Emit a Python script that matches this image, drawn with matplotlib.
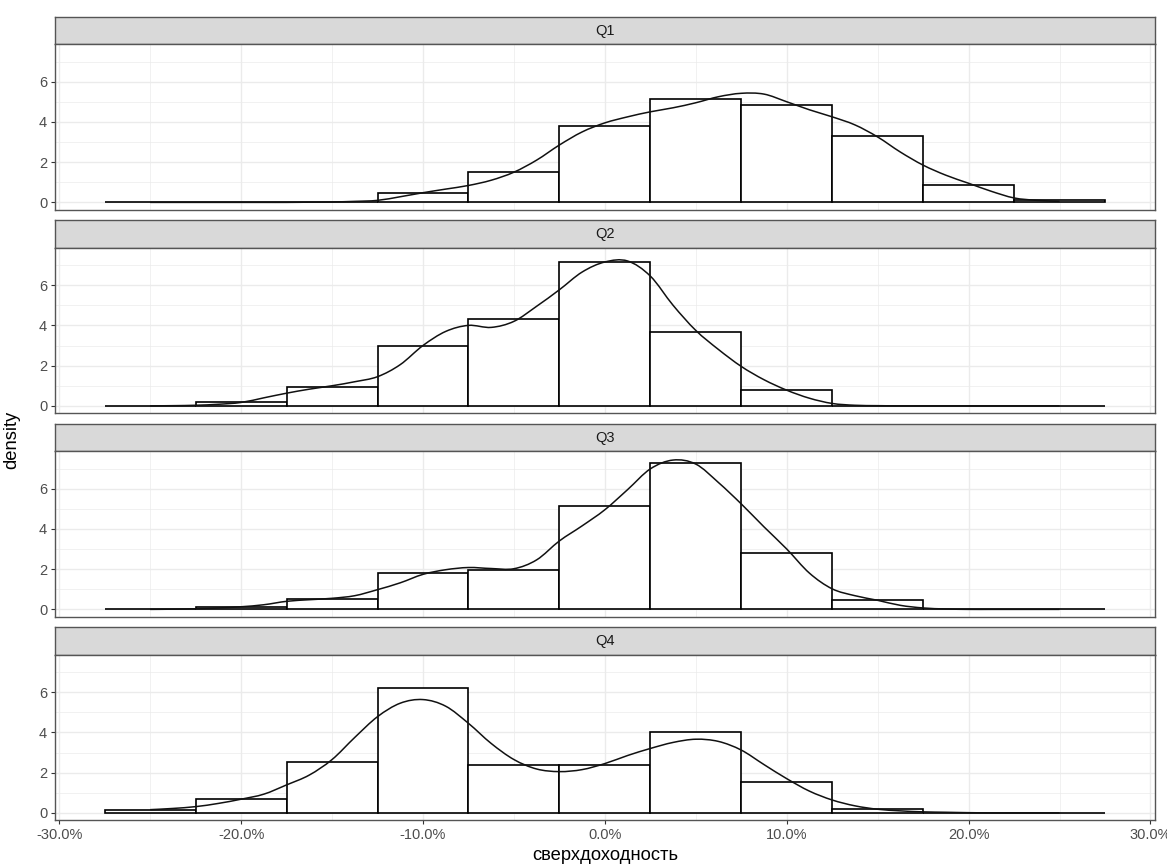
import numpy as np
import matplotlib
matplotlib.use("Agg")
import matplotlib.pyplot as plt
from matplotlib.ticker import PercentFormatter, FixedLocator
from matplotlib.path import Path
from matplotlib.patches import PathPatch

plt.rcParams['font.family'] = ['Liberation Sans', 'DejaVu Sans']
plt.rcParams['axes.unicode_minus'] = False

# ---------------- data ----------------
quarters = ['Q1', 'Q2', 'Q3', 'Q4']
bin_centers_pct = [-25, -20, -15, -10, -5, 0, 5, 10, 15, 20, 25]
bin_width_pct = 5

hist_q1 = [0, 0, 0, 0.48, 1.52, 3.80, 5.12, 4.83, 3.31, 0.88, 0.12]
hist_q2 = [0, 0.20, 0.95, 3.00, 4.34, 7.13, 3.68, 0.79, 0, 0, 0]
hist_q3 = [0, 0.10, 0.50, 1.80, 1.98, 5.14, 7.28, 2.78, 0.45, 0, 0]
hist_q4 = [0.13, 0.68, 2.51, 6.21, 2.40, 2.38, 4.02, 1.54, 0.18, 0, 0]

dens_x_pct = [-25, -23.75, -22.5, -21.25, -20, -18.75, -17.5, -16.25, -15, -13.75,
              -12.5, -11.25, -10, -8.75, -7.5, -6.25, -5, -3.75, -2.5, -1.25,
              0, 1.25, 2.5, 3.75, 5, 6.25, 7.5, 8.75, 10, 11.25,
              12.5, 13.75, 15, 16.25, 17.5, 18.75, 20, 21.25, 22.5, 23.75, 25]

dens_q1 = [0, 0, 0, 0, 0, 0, 0, 0.01, 0.02, 0.05,
           0.10, 0.28, 0.48, 0.66, 0.84, 1.10, 1.50, 2.10, 2.85, 3.50,
           3.95, 4.25, 4.50, 4.70, 4.95, 5.25, 5.42, 5.38, 5.00, 4.60,
           4.25, 3.85, 3.25, 2.50, 1.85, 1.35, 0.95, 0.55, 0.22, 0.10, 0.05]
dens_q2 = [0, 0.01, 0.03, 0.08, 0.17, 0.40, 0.63, 0.83, 1.00, 1.20,
           1.45, 2.05, 3.00, 3.70, 4.00, 3.90, 4.20, 4.95, 5.77, 6.65,
           7.15, 7.20, 6.45, 5.00, 3.75, 2.80, 1.96, 1.30, 0.78, 0.38,
           0.12, 0.03, 0.01, 0, 0, 0, 0, 0, 0, 0, 0]
dens_q3 = [0, 0.01, 0.03, 0.07, 0.13, 0.23, 0.40, 0.48, 0.55, 0.68,
           0.98, 1.32, 1.74, 1.97, 2.08, 2.03, 2.02, 2.46, 3.40, 4.15,
           4.95, 5.95, 6.98, 7.42, 7.22, 6.30, 5.24, 4.10, 3.00, 1.80,
           1.02, 0.68, 0.45, 0.20, 0.07, 0.02, 0, 0, 0, 0, 0]
dens_q4 = [0.16, 0.22, 0.31, 0.47, 0.68, 0.93, 1.39, 1.88, 2.65, 3.75,
           4.78, 5.45, 5.63, 5.30, 4.45, 3.45, 2.65, 2.18, 2.05, 2.15,
           2.45, 2.85, 3.20, 3.50, 3.66, 3.55, 3.12, 2.40, 1.70, 1.08,
           0.64, 0.35, 0.18, 0.10, 0.05, 0.03, 0.01, 0, 0, 0, 0]

x_ticks = [-0.3, -0.2, -0.1, 0.0, 0.1, 0.2, 0.3]
x_minor = [-0.25, -0.15, -0.05, 0.05, 0.15, 0.25]
y_ticks = [0, 2, 4, 6]
y_minor = [1, 3, 5, 7]

hists = [hist_q1, hist_q2, hist_q3, hist_q4]
denss = [dens_q1, dens_q2, dens_q3, dens_q4]


def smooth_path(xs, ys):
    """Curve through the read points, drawn as cubic Bezier segments (Catmull-Rom style)."""
    pts = np.column_stack([xs, ys]).astype(float)
    n = len(pts)
    verts = [pts[0]]
    codes = [Path.MOVETO]
    for k in range(n - 1):
        p0 = pts[k - 1] if k > 0 else pts[k]
        p1 = pts[k]
        p2 = pts[k + 1]
        p3 = pts[k + 2] if k + 2 < n else pts[k + 1]
        c1 = p1 + (p2 - p0) / 6.0
        c2 = p2 - (p3 - p1) / 6.0
        verts.extend([c1, c2, p2])
        codes.extend([Path.CURVE4, Path.CURVE4, Path.CURVE4])
    return Path(verts, codes)


# ---------------- layout ----------------
W, H = 1167, 864
fig = plt.figure(figsize=(W / 100, H / 100), dpi=100)
fig.patch.set_facecolor('white')

left_px, right_px = 54.7, 1155.0
first_strip_top = 16.7
period = 203.5
strip_h = 27.7
panel_h = 165.5

border_col = '#555555'
grid_col = '#EBEBEB'

centers = np.array(bin_centers_pct) / 100.0
width = bin_width_pct / 100.0
dx = np.array(dens_x_pct) / 100.0

for i, q in enumerate(quarters):
    s_top = first_strip_top + i * period
    s_bot = s_top + strip_h
    p_bot = s_bot + panel_h
    # strip
    sax = fig.add_axes([left_px / W, 1 - s_bot / H, (right_px - left_px) / W, strip_h / H])
    sax.set_facecolor('#D9D9D9')
    sax.set_xticks([])
    sax.set_yticks([])
    for sp in sax.spines.values():
        sp.set_color(border_col)
        sp.set_linewidth(1.0)
    sax.text(0.5, 0.5, q, ha='center', va='center', fontsize=10.5, color='#1A1A1A',
             transform=sax.transAxes)

    ax = fig.add_axes([left_px / W, 1 - p_bot / H, (right_px - left_px) / W, panel_h / H])
    ax.set_facecolor('white')
    ax.set_xlim(-0.3025, 0.3025)
    ax.set_ylim(-0.374, 7.85)
    ax.xaxis.set_major_locator(FixedLocator(x_ticks))
    ax.xaxis.set_minor_locator(FixedLocator(x_minor))
    ax.yaxis.set_major_locator(FixedLocator(y_ticks))
    ax.yaxis.set_minor_locator(FixedLocator(y_minor))
    ax.xaxis.set_major_formatter(PercentFormatter(xmax=1, decimals=1))
    ax.grid(True, which='major', color=grid_col, linewidth=1.0)
    ax.grid(True, which='minor', color=grid_col, linewidth=0.5)
    ax.set_axisbelow(True)
    ax.tick_params(which='major', direction='out', length=2.9, width=0.8, color='#333333',
                   labelcolor='#4D4D4D', labelsize=10.5, pad=2.5)
    ax.tick_params(which='minor', length=0)
    ax.set_yticklabels(['0', '2', '4', '6'])
    if i < 3:
        ax.tick_params(axis='x', which='major', length=0, labelbottom=False)
    for sp in ax.spines.values():
        sp.set_color(border_col)
        sp.set_linewidth(1.0)

    ax.bar(centers, hists[i], width=width, align='center', facecolor='white',
           edgecolor='black', linewidth=1.2, zorder=2)
    patch = PathPatch(smooth_path(dx, denss[i]), facecolor='none', edgecolor='#111111',
                      linewidth=1.1, zorder=3, transform=ax.transData)
    ax.add_patch(patch)

fig.text(12 / W, 1 - 440 / H, 'density', rotation=90, ha='center', va='center',
         fontsize=13.2, color='black')
fig.text((left_px + right_px) / 2 / W, 1 - 855 / H, 'сверхдоходность', ha='center',
         va='center', fontsize=13.2, color='black')

fig.savefig('out.png', dpi=100, facecolor='white')
